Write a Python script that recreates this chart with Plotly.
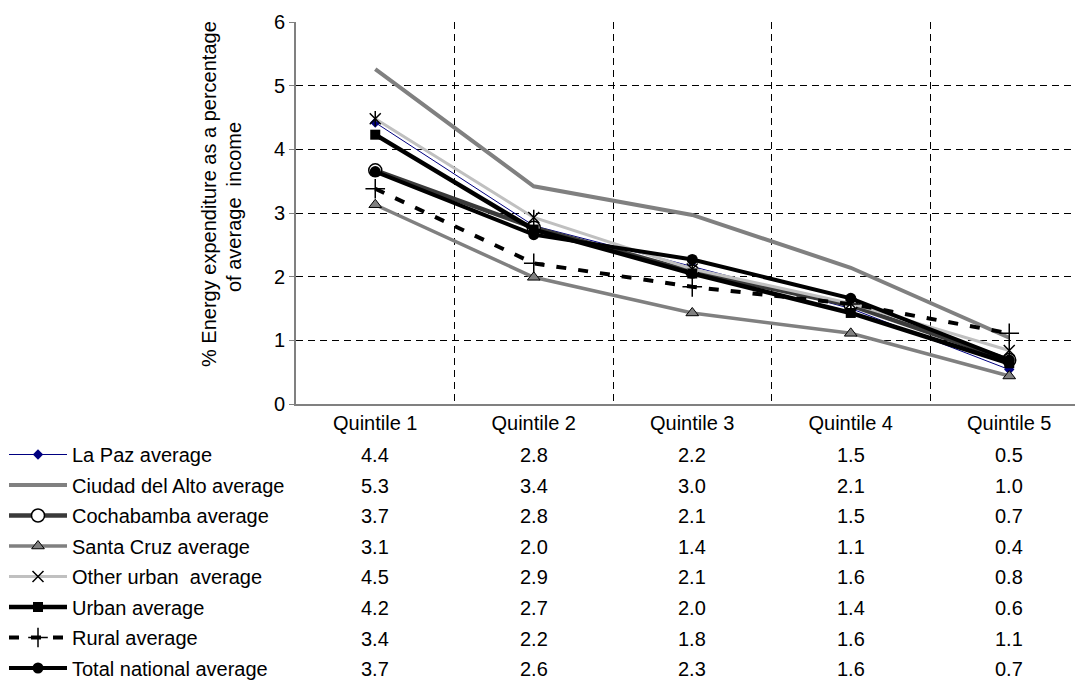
import plotly.graph_objects as go

# ---------------- data ----------------
quintiles = ["Quintile 1", "Quintile 2", "Quintile 3", "Quintile 4", "Quintile 5"]

series_names = [
    "La Paz average",
    "Ciudad del Alto average",
    "Cochabamba average",
    "Santa Cruz average",
    "Other urban  average",
    "Urban average",
    "Rural average",
    "Total national average",
]

# plotted values
lapaz = [4.42, 2.80, 2.16, 1.50, 0.54]
alto = [5.26, 3.42, 2.97, 2.14, 1.04]
cocha = [3.67, 2.77, 2.08, 1.55, 0.69]
santa = [3.13, 1.99, 1.43, 1.11, 0.44]
other = [4.48, 2.93, 2.12, 1.58, 0.84]
urban = [4.23, 2.74, 2.05, 1.43, 0.64]
rural = [3.38, 2.21, 1.84, 1.57, 1.11]
total = [3.65, 2.66, 2.27, 1.66, 0.69]

# data table values as printed below the chart
lapaz_t = ["4.4", "2.8", "2.2", "1.5", "0.5"]
alto_t = ["5.3", "3.4", "3.0", "2.1", "1.0"]
cocha_t = ["3.7", "2.8", "2.1", "1.5", "0.7"]
santa_t = ["3.1", "2.0", "1.4", "1.1", "0.4"]
other_t = ["4.5", "2.9", "2.1", "1.6", "0.8"]
urban_t = ["4.2", "2.7", "2.0", "1.4", "0.6"]
rural_t = ["3.4", "2.2", "1.8", "1.6", "1.1"]
total_t = ["3.7", "2.6", "2.3", "1.6", "0.7"]

y_title_1 = "% Energy expenditure as a percentage"
y_title_2 = "of average  income"

# ---------------- layout constants ----------------
W, H = 1075, 682
L, R, T, B = 296, 0, 22, 278
PW, PH = W - L - R, H - T - B
FONT = "Arial, 'Liberation Sans', sans-serif"
FS = 20


def px_x(px):
    return (px - L) / PW


def px_y(py):
    return (H - B - py) / PH


fig = go.Figure()

values = [lapaz, alto, cocha, santa, other, urban, rural, total]
styles = [
    dict(mode="lines+markers", line=dict(color="#000080", width=1),
         marker=dict(symbol="diamond", size=8, color="#000080")),
    dict(mode="lines", line=dict(color="#808080", width=4)),
    dict(mode="lines+markers", line=dict(color="#3a3a3a", width=4.5),
         marker=dict(symbol="circle", size=13, color="white", line=dict(color="black", width=1.5))),
    dict(mode="lines+markers", line=dict(color="#808080", width=3.5),
         marker=dict(symbol="triangle-up", size=11, color="#808080", line=dict(color="black", width=1))),
    dict(mode="lines+markers", line=dict(color="#C0C0C0", width=3),
         marker=dict(symbol="x-thin-open", size=11, color="black", line=dict(color="black", width=1.5))),
    dict(mode="lines+markers", line=dict(color="black", width=4.5),
         marker=dict(symbol="square", size=10, color="black")),
    dict(mode="lines+markers", line=dict(color="black", width=4, dash="10px,12px"),
         marker=dict(symbol="cross-thin-open", size=14, color="black", line=dict(color="black", width=1.5))),
    dict(mode="lines+markers", line=dict(color="black", width=4),
         marker=dict(symbol="circle", size=11, color="black")),
]

for i, (name, vals, st) in enumerate(zip(series_names, values, styles)):
    fig.add_trace(go.Scatter(x=quintiles, y=vals, name=name, legendgroup="g%d" % i,
                             cliponaxis=False, **st))
    if i == 4:
        # vertical stroke completing the Excel-style star marker
        fig.add_trace(go.Scatter(x=quintiles, y=vals, mode="markers", showlegend=False,
                                 legendgroup="g%d" % i, hoverinfo="skip", cliponaxis=False,
                                 marker=dict(symbol="line-ns-open", size=11, color="black",
                                             line=dict(color="black", width=1.5))))

# data table below the chart
tables = [lapaz_t, alto_t, cocha_t, santa_t, other_t, urban_t, rural_t, total_t]
row0, row_step = 455, 30.6
for r, row in enumerate(tables):
    for q, txt in zip(quintiles, row):
        fig.add_annotation(x=q, xref="x", y=px_y(row0 + r * row_step), yref="paper",
                           text=txt, showarrow=False, xanchor="center", yanchor="middle",
                           font=dict(family=FONT, size=FS, color="black"))

# y-axis title (two lines)
fig.add_annotation(x=px_x(209), xref="paper", y=px_y(194), yref="paper", text=y_title_1,
                   textangle=-90, showarrow=False, xanchor="center", yanchor="middle",
                   font=dict(family=FONT, size=FS, color="black"))
fig.add_annotation(x=px_x(234), xref="paper", y=px_y(207), yref="paper", text=y_title_2,
                   textangle=-90, showarrow=False, xanchor="center", yanchor="middle",
                   font=dict(family=FONT, size=FS, color="black"))

fig.update_layout(
    width=W, height=H, autosize=False,
    margin=dict(l=L, r=R, t=T, b=B, pad=0, autoexpand=False),
    paper_bgcolor="white", plot_bgcolor="white",
    font=dict(family=FONT, size=FS, color="black"),
    showlegend=True,
    legend=dict(x=px_x(4), y=px_y(435), xanchor="left", yanchor="top",
                bgcolor="rgba(0,0,0,0)", font=dict(family=FONT, size=FS, color="black"),
                itemwidth=58, tracegroupgap=1.5, traceorder="grouped",
                itemclick=False, itemdoubleclick=False),
    xaxis=dict(type="category", range=[-0.5, -0.5 + PW / 158.5], tickson="boundaries",
               showgrid=True, gridcolor="black", gridwidth=1, griddash="7px,5px",
               ticks="", showline=True, linecolor="#808080", linewidth=2,
               zeroline=False, tickfont=dict(family=FONT, size=FS, color="black"),
               fixedrange=True),
    yaxis=dict(range=[0, 6], dtick=1, showgrid=True, gridcolor="black", gridwidth=1,
               griddash="7px,5px", ticks="outside", ticklen=5, tickcolor="#808080",
               tickwidth=1, showline=True, linecolor="#808080", linewidth=2,
               zeroline=False, tickfont=dict(family=FONT, size=FS, color="black"),
               fixedrange=True),
)

fig.write_html("out.html")
